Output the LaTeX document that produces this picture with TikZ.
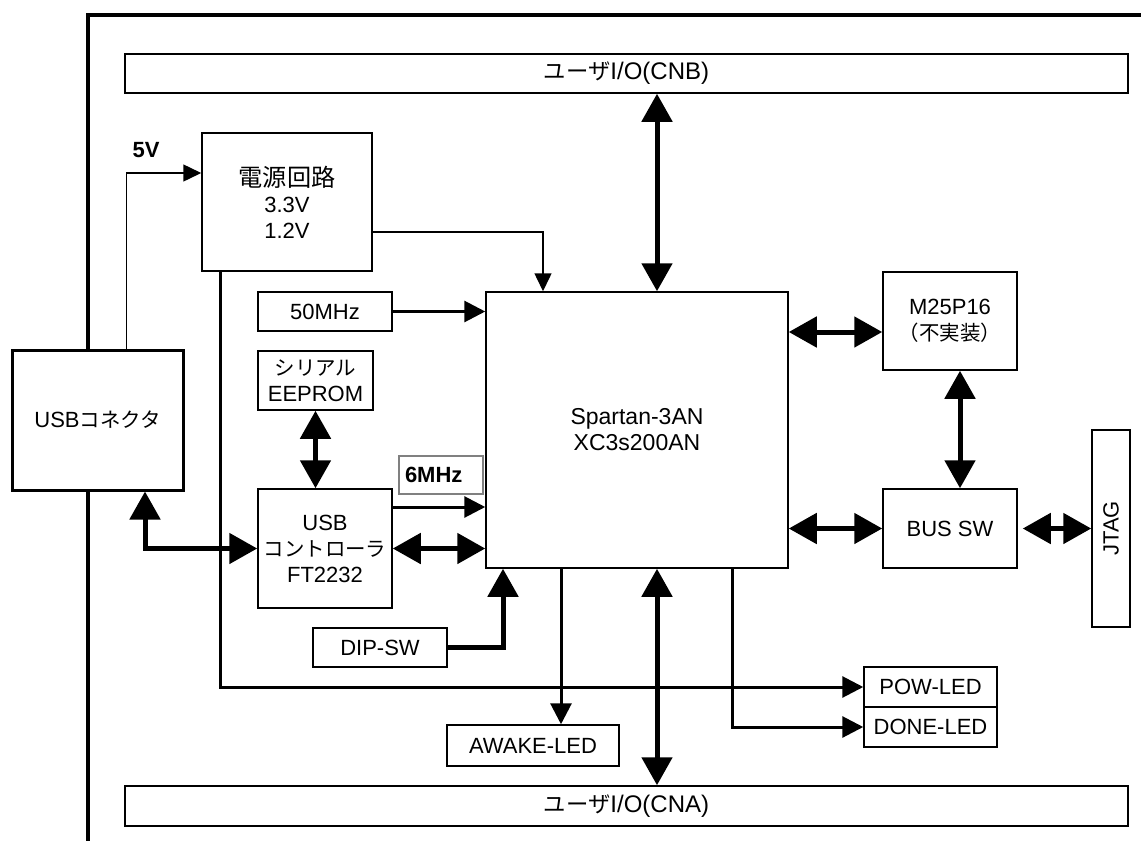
\documentclass[tikz,border=0pt]{standalone}
\usepackage{fontspec}
\setmainfont{Liberation Sans}
\newfontfamily\jpfont[Scale=0.93]{Noto Sans CJK JP}
\usepackage{tikz}
\usetikzlibrary{arrows.meta}
\usetikzlibrary{positioning}

\tikzset{
  blk/.style={draw, line width=1.5pt, fill=white, inner sep=0pt, align=center},
  bus/.style={line width=5pt, {Triangle[length=28pt,width=30pt]}-{Triangle[length=28pt,width=30pt]}},
  busin/.style={line width=5pt, -{Triangle[length=28pt,width=30pt]}},
  sig/.style={line width=3pt, -{Triangle[length=21pt,width=21pt]}},
  pwrline/.style={line width=1.5pt, -{Triangle[length=18pt,width=17pt]}},
  every node/.style={font=\fontsize{22}{26}\selectfont}
}

\begin{document}
\begin{tikzpicture}[x=1pt,y=-1pt]
\useasboundingbox (0,0) rectangle (1141,841);
% board outline
\draw[line width=4pt] (88,841) -- (88,15) -- (1141,15);

% blocks
\node[blk, font=\fontsize{24}{28}\selectfont, minimum width=1003pt, minimum height=39pt] (cnb) at (626.5,73.5) {{\jpfont ユーザ}I/O(CNB)};
\node[blk, font=\fontsize{24}{28}\selectfont, minimum width=1003pt, minimum height=40pt] (cna) at (626.5,806) {{\jpfont ユーザ}I/O(CNA)};
\node[blk, minimum width=170pt, minimum height=138pt] (pwr) at (287,202) {{\fontsize{26}{30}\selectfont\jpfont 電源回路}\\3.3V\\1.2V};
\node[blk, line width=3pt, minimum width=171pt, minimum height=140pt] (usbconn) at (97.5,420) {USB{\jpfont コネクタ}};
\node[blk, minimum width=134pt, minimum height=39pt] (osc50) at (325,311.5) {50MHz};
\node[blk, minimum width=115pt, minimum height=59pt] (eeprom) at (315.5,380.5) {{\jpfont シリアル}\\EEPROM};
\node[blk, minimum width=134pt, minimum height=119pt] (usbctl) at (325,548.5) {USB\\{\jpfont コントローラ}\\FT2232};
\node[draw=gray, line width=2pt, fill=white, inner xsep=6pt, inner ysep=0pt, text width=72pt, align=left, minimum height=38pt] (mhz6) at (441,475) {\bfseries 6MHz};
\node[blk, minimum width=134pt, minimum height=39pt] (dipsw) at (380,647.5) {DIP-SW};
\node[blk, font=\fontsize{23}{26}\selectfont, minimum width=302pt, minimum height=276pt] (fpga) at (637,430) {Spartan-3AN\\XC3s200AN};
\node[blk, minimum width=172pt, minimum height=41pt] (awake) at (533,745.5) {AWAKE-LED};
\node[blk, minimum width=133pt, minimum height=40pt] (powled) at (930.5,687) {POW-LED};
\node[blk, minimum width=133pt, minimum height=40pt] (doneled) at (930.5,727) {DONE-LED};
\node[blk, minimum width=134pt, minimum height=98pt] (m25) at (950,321) {M25P16\\{\jpfont （不実装）}};
\node[blk, minimum width=134pt, minimum height=79pt] (bussw) at (950,528.5) {BUS SW};
\node[blk, rotate=90, minimum width=197pt, minimum height=38pt] (jtag) at (1111,528.5) {JTAG};
\node[font=\fontsize{22}{26}\selectfont\bfseries] (v5) at (146,150) {5V};

% power
\draw[pwrline] ([xshift=29pt]usbconn.north) |- ([yshift=29pt]pwr.west);
\draw[pwrline] ([yshift=-30pt]pwr.east) -| ([xshift=-94pt]fpga.north);
\draw[sig] ([xshift=-67pt]pwr.south) |- (powled.west);

% clocks and signals
\draw[sig] (osc50.east) -- (osc50.east -| fpga.west);
\draw[sig] ([yshift=41.5pt]usbctl.east) -- ([yshift=41.5pt]usbctl.east -| fpga.west);
\draw[sig] ([xshift=-76pt]fpga.south) -- ([xshift=-76pt]fpga.south |- awake.north);
\draw[sig] ([xshift=95pt]fpga.south) |- (doneled.west);

% buses
\draw[bus] ([xshift=20pt]fpga.north) -- ([xshift=20pt]fpga.north |- cnb.south);
\draw[bus] ([xshift=20pt]fpga.south) -- ([xshift=20pt]fpga.south |- cna.north);
\draw[bus] (eeprom.south) -- (eeprom.south |- usbctl.north);
\draw[bus] ([xshift=47.5pt]usbconn.south) |- (usbctl.west);
\draw[bus] (usbctl.east) -- (usbctl.east -| fpga.west);
\draw[busin] (dipsw.east) -| ([xshift=-134pt]fpga.south);
\draw[bus] ([yshift=-11pt]m25.west) -- ([yshift=-11pt]m25.west -| fpga.east);
\draw[bus] (bussw.west) -- (bussw.west -| fpga.east);
\draw[bus] ([xshift=10pt]m25.south) -- ([xshift=10pt]m25.south |- bussw.north);
\draw[bus, shorten <=5pt] (bussw.east) -- (bussw.east -| jtag.north);
\end{tikzpicture}
\end{document}
